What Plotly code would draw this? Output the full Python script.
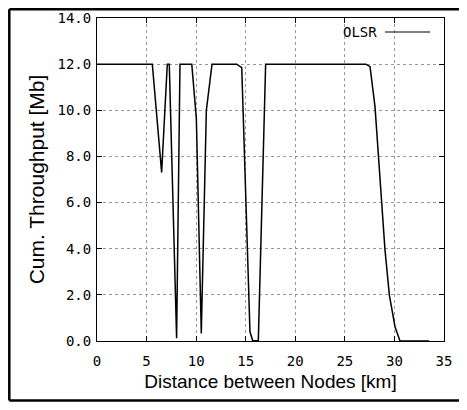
import plotly.graph_objects as go

# Data
distance_km = [0, 5.58, 6.52, 7.09, 7.29, 8.03, 8.37, 9.56, 10.02, 10.52, 11.03, 11.6,
               14.09, 14.6, 15.43, 15.7, 16.27, 17.01, 27.13, 27.54, 28.04, 28.38,
               28.71, 29.05, 29.49, 30.06, 30.56, 33.5]
throughput_mb = [12, 12, 7.31, 12, 12, 0.12, 12, 12, 9.65, 0.33, 10.0, 12,
                 12, 11.85, 0.4, 0.02, 0, 12, 12, 11.89, 10.16, 7.99,
                 5.97, 3.94, 1.99, 0.62, 0, 0]
series_name = "OLSR"
x_ticks = [0, 5, 10, 15, 20, 25, 30, 35]
y_ticks = [0, 2, 4, 6, 8, 10, 12, 14]
y_tick_labels = ["0.0", "2.0", "4.0", "6.0", "8.0", "10.0", "12.0", "14.0"]

# page body has an 8px margin, so figure coords = screen coords - 8
OFF = 8
W, H = 467 - 2 * OFF, 410 - 2 * OFF
L, T = 97 - OFF, 18 - OFF
R = W - (444 - OFF)
PLOT_BOTTOM = 341 - OFF
B = H - PLOT_BOTTOM
pw, ph = W - L - R, H - T - B

def px(xscreen):
    return (xscreen - OFF - L) / pw

def py(yscreen):
    return (PLOT_BOTTOM - (yscreen - OFF)) / ph

mono = "DejaVu Sans Mono"
sans = "Liberation Sans"

fig = go.Figure()
fig.add_trace(go.Scatter(x=distance_km, y=throughput_mb, mode="lines", name=series_name,
                         line=dict(color="black", width=1.5), showlegend=False))

axis_common = dict(showline=True, linecolor="black", linewidth=1, mirror="ticks",
                   ticks="inside", ticklen=5, tickcolor="black", tickwidth=1,
                   showgrid=True, gridcolor="#999999", griddash="dot", gridwidth=1,
                   zeroline=False, tickfont=dict(family=mono, size=14, color="black"))

fig.update_xaxes(range=[0, 35], tickvals=x_ticks, ticktext=[str(v) for v in x_ticks],
                 ticklabelstandoff=7,
                 title=dict(text="Distance between Nodes [km]",
                            font=dict(family=sans, size=19, color="black"), standoff=6),
                 **axis_common)
fig.update_yaxes(range=[0, 14], tickvals=y_ticks, ticktext=y_tick_labels,
                 ticklabelstandoff=2,
                 title=dict(text="Cum. Throughput [Mb]",
                            font=dict(family=sans, size=21, color="black"), standoff=7),
                 **axis_common)

# Legend (gnuplot style: text then line sample)
fig.add_annotation(x=px(379), y=py(32), xref="paper", yref="paper", text=series_name,
                   showarrow=False, xanchor="right", yanchor="middle",
                   font=dict(family=mono, size=14, color="black"))
fig.add_shape(type="line", xref="paper", yref="paper", x0=px(385), x1=px(430),
              y0=py(32), y1=py(32), line=dict(color="black", width=1.2))

# Outer border: left, top and bottom edges only (right edge lies off-page)
border = dict(color="black", width=2.5)
bx0, bx1 = px(9.3), px(OFF + W)
by0, by1 = py(400.5), py(9.3)
fig.add_shape(type="line", xref="paper", yref="paper", x0=bx0, x1=bx0, y0=by0, y1=by1,
              line=border, layer="above")
fig.add_shape(type="line", xref="paper", yref="paper", x0=bx0, x1=bx1, y0=by1, y1=by1,
              line=border, layer="above")
fig.add_shape(type="line", xref="paper", yref="paper", x0=bx0, x1=bx1, y0=by0, y1=by0,
              line=border, layer="above")

fig.update_layout(width=W, height=H, margin=dict(l=L, r=R, t=T, b=B, autoexpand=False),
                  paper_bgcolor="white", plot_bgcolor="white")

fig.write_html("out.html")
